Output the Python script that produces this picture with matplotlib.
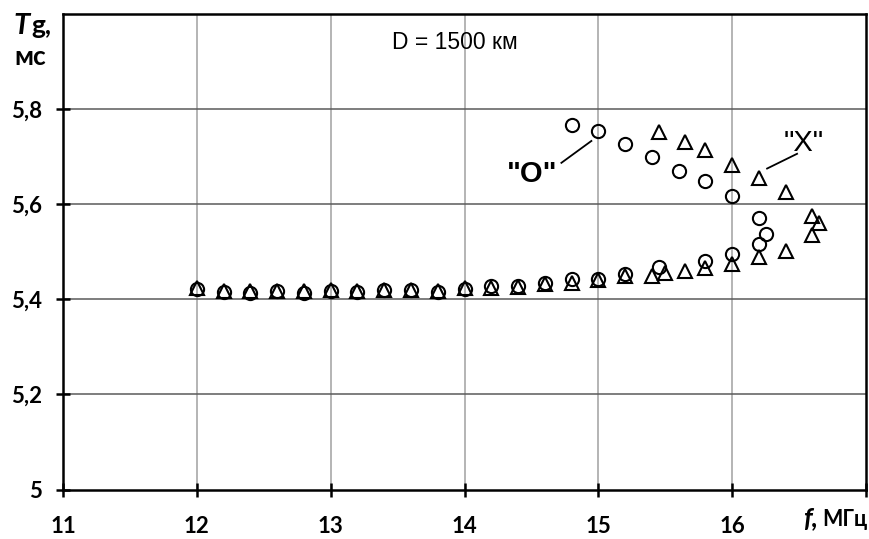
import matplotlib
matplotlib.use("Agg")
import matplotlib.pyplot as plt
from matplotlib.ticker import FixedLocator

# Data
circ_f = [12.0, 12.2, 12.4, 12.6, 12.8, 13.0, 13.2, 13.4, 13.6, 13.8, 14.0, 14.2, 14.4, 14.6,
          14.8, 15.0, 15.2, 15.45, 15.8, 16.0, 16.2, 16.25, 16.2, 16.0, 15.8, 15.6, 15.4, 15.2,
          15.0, 14.8]
circ_T = [5.422, 5.415, 5.413, 5.417, 5.413, 5.418, 5.416, 5.420, 5.420, 5.416, 5.422, 5.427,
          5.429, 5.434, 5.443, 5.443, 5.453, 5.468, 5.480, 5.496, 5.516, 5.538, 5.571, 5.617,
          5.649, 5.670, 5.700, 5.726, 5.754, 5.766]
tri_f = [12.0, 12.2, 12.4, 12.6, 12.8, 13.0, 13.2, 13.4, 13.6, 13.8, 14.0, 14.2, 14.4, 14.6,
         14.8, 15.0, 15.2, 15.4, 15.5, 15.65, 15.8, 16.0, 16.2, 16.4, 16.6, 16.65, 16.6, 16.4,
         16.2, 16.0, 15.8, 15.65, 15.45]
tri_T = [5.424, 5.418, 5.418, 5.418, 5.418, 5.419, 5.418, 5.419, 5.419, 5.418, 5.423, 5.424,
         5.426, 5.432, 5.434, 5.440, 5.448, 5.450, 5.455, 5.460, 5.465, 5.474, 5.488, 5.501,
         5.536, 5.561, 5.575, 5.625, 5.656, 5.682, 5.714, 5.731, 5.751]

x_ticks = [11, 12, 13, 14, 15, 16, 17]
x_labels = ["11", "12", "13", "14", "15", "16", ""]
y_ticks = [5.0, 5.2, 5.4, 5.6, 5.8]
y_labels = ["5", "5,2", "5,4", "5,6", "5,8"]

fig = plt.figure(figsize=(8.69, 5.39), dpi=100)
W, H = 869, 539
ax = fig.add_axes([63 / W, 1 - 489.5 / H, (866 - 63) / W, (489.5 - 14) / H])

ax.set_xlim(11, 17)
ax.set_ylim(5.0, 6.0)

# grid
for x in [12, 13, 14, 15, 16]:
    ax.axvline(x, color="#a0a0a0", lw=1.1, zorder=0)
for y in [5.2, 5.4, 5.6, 5.8]:
    ax.axhline(y, color="#5a5a5a", lw=1.1, zorder=0)

ax.plot(circ_f, circ_T, linestyle="none", marker="o", markersize=9.5,
        markerfacecolor="none", markeredgecolor="black", markeredgewidth=1.5, zorder=3)
ax.plot(tri_f, tri_T, linestyle="none", marker="^", markersize=9.5,
        markerfacecolor="none", markeredgecolor="black", markeredgewidth=1.5, zorder=3)

for s in ax.spines.values():
    s.set_linewidth(1.8)
    s.set_color("black")

ax.xaxis.set_major_locator(FixedLocator(x_ticks))
ax.set_xticklabels(x_labels)
ax.yaxis.set_major_locator(FixedLocator(y_ticks))
ax.set_yticklabels(y_labels)
ax.tick_params(direction="inout", length=10, width=1.8, color="black")
ax.tick_params(axis="x", pad=14)
ax.tick_params(axis="y", pad=10)
for lab in ax.get_xticklabels() + ax.get_yticklabels():
    lab.set_fontfamily("Lato")
    lab.set_fontweight("bold")
    lab.set_fontsize(16)

# annotations
ax.text(13.925, 5.940, "D = 1500 км", family="Liberation Sans", fontsize=16.5,
        ha="center", va="center")
ax.text(14.507, 5.664, '"O"', family="Liberation Sans", fontweight="bold", fontsize=21,
        ha="center", va="center")
ax.plot([14.724, 14.948], [5.687, 5.733], color="black", lw=1.3)
ax.text(16.537, 5.728, '"X"', family="Liberation Sans", fontsize=21,
        ha="center", va="center")
ax.plot([16.485, 16.261], [5.706, 5.675], color="black", lw=1.3)

# axis titles
fig.text(13 / W, 1 - 34 / H, "T", family="Lato", style="italic", fontweight="bold",
         fontsize=21, ha="left", va="baseline")
fig.text(31 / W, 1 - 34 / H, "g,", family="Lato", fontweight="bold",
         fontsize=19, ha="left", va="baseline")
fig.text(30 / W, 1 - 57 / H, "мс", family="Lato", fontweight="bold",
         fontsize=19, ha="center", va="center")
fig.text(803 / W, 1 - 526 / H, "f,", family="Lato", style="italic", fontweight="bold",
         fontsize=19, ha="left", va="baseline")
fig.text(868 / W, 1 - 526 / H, "МГц", family="Lato", fontweight="bold",
         fontsize=15.5, ha="right", va="baseline")

fig.savefig("out.png", dpi=100)
